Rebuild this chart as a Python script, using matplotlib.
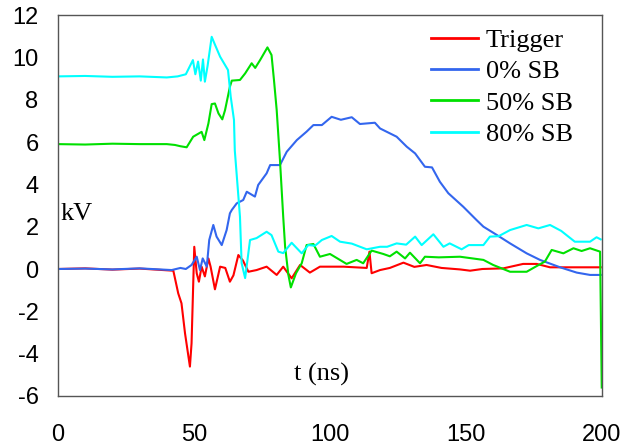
import matplotlib
matplotlib.use('Agg')
import matplotlib.pyplot as plt

plt.rcParams['axes.unicode_minus'] = False

# traces (t in ns, V in kV)
trigger_t = [0, 10, 20, 30, 42.4, 44.2, 45.4, 46.7, 48.5, 49.1, 50.1, 51.0, 51.8, 52.8, 54.0,
             55.3, 56.1, 57.7, 59.6, 61.5, 63.2, 64.5, 66.3, 68.0, 70.0, 73.0, 76.7, 80.4, 82.8,
             85.9, 89.0, 92.6, 96.3, 105, 113.5, 114.5, 115.3, 118.4, 122, 127.0, 131, 135.5,
             141, 147.8, 151.5, 156, 163.7, 171.0, 176, 180.9, 190, 199.5]
trigger_v = [0, 0.03, -0.03, 0.02, -0.08, -1.15, -1.62, -3.04, -4.61, -3.51, 1.05, -0.2, -0.6,
             0.11, -0.35, 0.5, 0.11, -0.96, 0.11, 0.05, -0.6, -0.3, 0.66, 0.4, -0.13, -0.05,
             0.11, -0.28, 0.11, -0.44, 0.19, -0.17, 0.11, 0.11, 0.05, 0.82, -0.2, -0.05, 0.05,
             0.3, 0.1, 0.19, 0.05, -0.02, -0.08, 0.0, 0.03, 0.24, 0.24, 0.08, 0.08, 0.08]

sb0_t = [0, 10, 20, 30, 41.8, 45, 47, 49.1, 51.0, 52.2, 53.2, 54.7, 55.6, 57.1, 58.3, 60.2,
         62.0, 63.2, 63.9, 65.7, 68.1, 69.4, 72.4, 73.6, 76.7, 78.0, 81.6, 84.1, 87.8, 91.4,
         93.9, 97, 100.6, 104, 108.0, 111.0, 116.5, 118.4, 124.5, 128.2, 131.3, 134.9, 137.5,
         140.4, 143.5, 149.0, 153.9, 156.4, 161.3, 166.2, 172.3, 177.2, 184.6, 190.7, 195.6, 199.5]
sb0_v = [0, 0.02, -0.02, 0.03, -0.05, 0.05, 0.0, 0.19, 0.58, -0.05, 0.5, 0.11, 1.37, 2.08,
         1.53, 1.13, 1.84, 2.63, 2.79, 3.1, 3.26, 3.65, 3.42, 3.97, 4.52, 4.91, 4.91, 5.54,
         6.09, 6.49, 6.8, 6.8, 7.19, 7.05, 7.17, 6.85, 6.91, 6.64, 6.25, 5.78, 5.46, 4.83,
         4.8, 4.12, 3.58, 2.94, 2.31, 2.0, 1.61, 1.21, 0.74, 0.43, 0.08, -0.17, -0.28, -0.28]

sb50_t = [0, 10, 20, 30, 40, 43, 45, 47.3, 49.7, 52.8, 53.8, 55.3, 56.5, 57.7, 59.0, 60.4,
          61.4, 63.2, 63.9, 66.9, 68.8, 71.2, 72.5, 74.3, 77.0, 78.5, 79.4, 80.4, 81.6, 82.8,
          83.5, 84.7, 85.6, 87.5, 89.6, 91.4, 93.9, 96.3, 100.0, 106.1, 109.8, 112.2, 115.3,
          119.6, 122, 124.5, 127.6, 129.4, 133.1, 134.9, 140, 147.8, 156.4, 160.0, 166.2,
          172.3, 176.0, 179.0, 181.5, 185.8, 189.5, 192.5, 195.6, 199.3, 199.9]
sb50_v = [5.9, 5.88, 5.92, 5.9, 5.9, 5.86, 5.8, 5.75, 6.25, 6.48, 6.09, 6.88, 7.79, 7.82,
          7.35, 7.07, 7.5, 8.61, 8.9, 8.93, 9.24, 9.72, 9.5, 9.87, 10.47, 10.11, 8.93, 7.51,
          5.15, 2.47, 1.05, -0.28, -0.87, -0.2, 0.27, 1.13, 1.18, 0.58, 0.71, 0.24, 0.43,
          0.27, 0.87, 0.71, 0.6, 0.82, 0.5, 0.77, 0.27, 0.58, 0.55, 0.58, 0.43, 0.19, -0.13,
          -0.13, 0.14, 0.35, 0.9, 0.74, 0.98, 0.85, 0.98, 0.82, -5.6]

sb80_t = [0, 10, 20, 30, 40, 44, 47, 49.6, 50.5, 51.5, 52.5, 53.3, 54.0, 55.0, 56.5, 57.7,
          59.6, 62.5, 63.5, 64.7, 65.0, 66.9, 67.5, 68.8, 70.6, 73.0, 76.7, 78.5, 81.0, 82.8,
          85.9, 89.6, 92.0, 94.5, 97.0, 100.6, 103.7, 108, 113.5, 118.4, 121, 124.5, 128,
          131.3, 133.7, 138.0, 141.7, 144.0, 148.4, 151, 156.4, 158.8, 162, 166.2, 172.3,
          176.6, 180.9, 185, 190.0, 195.6, 198.0, 199.5]
sb80_v = [9.1, 9.12, 9.08, 9.1, 9.05, 9.1, 9.2, 9.87, 9.2, 9.8, 8.9, 9.9, 8.85, 9.6, 10.97,
          10.6, 10.03, 9.4, 8.14, 7.04, 5.6, 2.47, 0.28, -0.43, 1.37, 1.46, 1.76, 1.6, 0.82,
          0.75, 1.24, 0.74, 1.13, 1.1, 1.37, 1.56, 1.29, 1.2, 0.93, 1.05, 1.05, 1.21, 1.15,
          1.53, 1.13, 1.64, 1.05, 1.21, 0.93, 1.13, 1.13, 1.53, 1.55, 1.84, 2.08, 1.92, 2.08,
          1.8, 1.29, 1.29, 1.5, 1.4]

labels = ['Trigger', '0% SB', '50% SB', '80% SB']
colors = ['#ff0000', '#3366ee', '#00e000', '#00ffff']

fig = plt.figure(figsize=(6.34, 4.47), dpi=100)
ax = fig.add_axes([58 / 634, 1 - 396 / 447, 544 / 634, 381 / 447])

series = [(trigger_t, trigger_v), (sb0_t, sb0_v), (sb50_t, sb50_v), (sb80_t, sb80_v)]
for (t, v), lab, c in zip(series, labels, colors):
    ax.plot(t, v, color=c, linewidth=1.5, label=lab)

ax.set_xlim(0, 200)
ax.set_ylim(-6, 12)
ax.set_xticks([0, 50, 100, 150, 200])
ax.set_yticks(range(-6, 13, 2))
ax.tick_params(length=0, labelsize=17)
ax.tick_params(axis='x', pad=20)
ax.tick_params(axis='y', pad=14)
for lbl in ax.get_xticklabels() + ax.get_yticklabels():
    lbl.set_family('Liberation Sans')
for s in ax.spines.values():
    s.set_color('#555555')
    s.set_linewidth(1)

ax.text(0.8, 2.6, 'kV', family='Liberation Serif', fontsize=19, va='center', ha='left')
ax.text(97, -5.0, 't (ns)', family='Liberation Serif', fontsize=19, va='center', ha='center')

leg = ax.legend(loc='upper left', bbox_to_anchor=(0.685, 0.965), frameon=False,
                prop={'family': 'Liberation Serif', 'size': 19},
                handlelength=1.8, handletextpad=0.3, labelspacing=0.3,
                borderpad=0, borderaxespad=0)
for line in leg.get_lines():
    line.set_linewidth(2)

fig.savefig('out.png', dpi=100)
